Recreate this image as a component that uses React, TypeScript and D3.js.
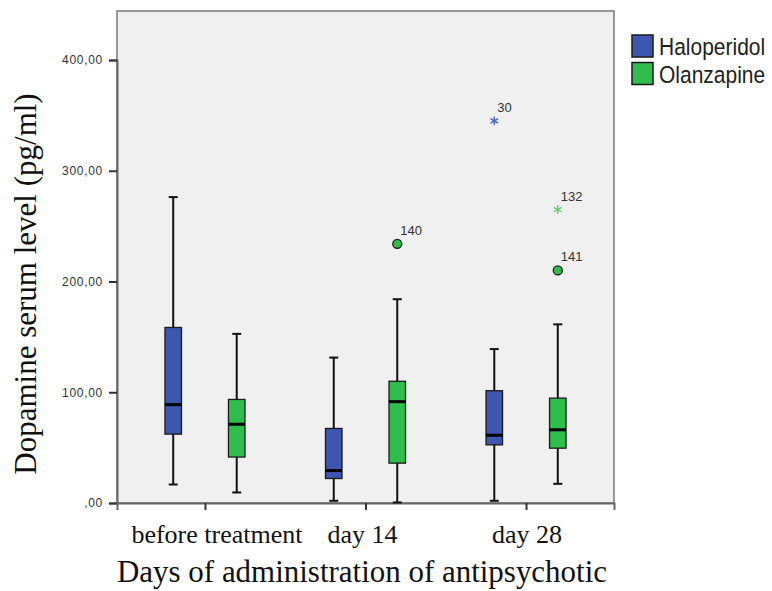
import React, { useEffect, useRef } from 'react'
import * as d3 from 'd3'

// categories on the x axis and the two drugs
const groups = ['before treatment', 'day 14', 'day 28']
const series = ['Haloperidol', 'Olanzapine']
const colors = ['#3d57b1', '#2fbd4b']
const starColors = ['#4a66c8', '#5fd16a']

// [whisker low, Q1, median, Q3, whisker high] per group
const haloStats = [
  [16.7, 62.2, 88.8, 158.5, 276.2],
  [2.0, 22.1, 29.3, 67.3, 131.3],
  [2.0, 52.5, 61.2, 101.4, 139.0],
]
const olanStats = [
  [9.5, 41.5, 71.1, 93.5, 152.7],
  [0.5, 36.0, 91.5, 109.9, 184.0],
  [17.3, 49.5, 66.1, 94.7, 161.3],
]

// outliers (circle) and extremes (star) with case numbers
const outliers = [
  { group: 'day 14', series: 'Olanzapine', value: 234, label: '140', kind: 'circle' },
  { group: 'day 28', series: 'Haloperidol', value: 345, label: '30', kind: 'star' },
  { group: 'day 28', series: 'Olanzapine', value: 265, label: '132', kind: 'star' },
  { group: 'day 28', series: 'Olanzapine', value: 210, label: '141', kind: 'circle' },
]

const yTicks = [0, 100, 200, 300, 400]
const yTickLabels = [',00', '100,00', '200,00', '300,00', '400,00']

export default function App() {
  const ref = useRef<SVGSVGElement>(null)

  useEffect(() => {
    const svg = d3.select(ref.current)
    svg.selectAll('*').remove()

    const left = 117, right = 614, top = 11, bottom = 503

    const x = d3.scalePoint().domain(groups).range([left, right]).padding(0.548)
    const sub = d3.scalePoint().domain(series).range([-31.75, 31.75])
    const y = d3.scaleLinear().domain([0, 400]).range([bottom, 60])
    const boxW = 16.5

    // plot background + frame
    svg.append('rect')
      .attr('x', left).attr('y', top)
      .attr('width', right - left).attr('height', bottom - top)
      .attr('fill', '#f0f0f0')
      .attr('stroke', '#777').attr('stroke-width', 1.5)

    // y axis
    const yAxis = svg.append('g').attr('transform', 'translate(' + left + ',0)')
      .call(d3.axisLeft(y).tickValues(yTicks).tickSize(8).tickPadding(6)
        .tickFormat((d, i) => yTickLabels[i]))
    yAxis.select('.domain').attr('stroke', '#666').attr('stroke-width', 2)
    yAxis.selectAll('.tick line').attr('stroke', '#333').attr('stroke-width', 2)
    yAxis.selectAll('.tick text')
      .attr('font-family', 'Liberation Sans, Arial, sans-serif')
      .attr('font-size', 12).attr('letter-spacing', 0.7)
      .attr('fill', '#333')

    // x axis
    const xAxis = svg.append('g').attr('transform', 'translate(0,' + bottom + ')')
      .call(d3.axisBottom(x).tickSize(7).tickFormat(() => ''))
    xAxis.select('.domain').attr('stroke', '#666').attr('stroke-width', 2)
    xAxis.selectAll('.tick line').attr('stroke', '#333').attr('stroke-width', 2)

    svg.append('g').selectAll('text')
      .data(groups)
      .enter()
      .append('text')
      .attr('x', d => x(d))
      .attr('dx', (d, i) => (i === 0 ? 12 : i === 1 ? -3 : 1))
      .attr('y', 543)
      .attr('text-anchor', 'middle')
      .attr('font-family', 'Liberation Serif, Times New Roman, serif')
      .attr('font-size', 26)
      .attr('fill', '#111')
      .text(d => d)

    // boxes
    const allStats = [haloStats, olanStats]
    series.forEach((s, si) => {
      const g = svg.append('g')
      groups.forEach((grp, gi) => {
        const [lo, q1, med, q3, hi] = allStats[si][gi]
        const cx = x(grp) + sub(s)
        // whiskers
        g.append('line')
          .attr('x1', cx).attr('x2', cx)
          .attr('y1', y(hi)).attr('y2', y(q3))
          .attr('stroke', '#111').attr('stroke-width', 2)
        g.append('line')
          .attr('x1', cx).attr('x2', cx)
          .attr('y1', y(q1)).attr('y2', y(lo))
          .attr('stroke', '#111').attr('stroke-width', 2)
        // caps
        ;[lo, hi].forEach(v => {
          g.append('line')
            .attr('x1', cx - 4.5).attr('x2', cx + 4.5)
            .attr('y1', y(v)).attr('y2', y(v))
            .attr('stroke', '#111').attr('stroke-width', 2)
        })
        g.append('rect')
          .attr('x', cx - boxW / 2).attr('width', boxW)
          .attr('y', y(q3)).attr('height', y(q1) - y(q3))
          .attr('fill', colors[si])
          .attr('stroke', '#1a1a1a').attr('stroke-width', 1.3)
        g.append('line')
          .attr('x1', cx - boxW / 2).attr('x2', cx + boxW / 2)
          .attr('y1', y(med)).attr('y2', y(med))
          .attr('stroke', '#000').attr('stroke-width', 3)
      })
    })

    // outliers and extremes
    const star = d3.symbol().type(d3.symbolAsterisk).size(55)
    outliers.forEach(o => {
      const si = series.indexOf(o.series)
      const cx = x(o.group) + sub(o.series)
      const cy = y(o.value)
      if (o.kind === 'circle') {
        svg.append('circle')
          .attr('cx', cx).attr('cy', cy).attr('r', 4.5)
          .attr('fill', colors[si])
          .attr('stroke', '#1a1a1a').attr('stroke-width', 1.3)
      } else {
        svg.append('path')
          .attr('d', star())
          .attr('transform', 'translate(' + cx + ',' + cy + ')')
          .attr('fill', 'none')
          .attr('stroke', starColors[si]).attr('stroke-width', 1.4)
      }
      svg.append('text')
        .attr('x', cx + 3).attr('y', cy - 9)
        .attr('font-family', 'Liberation Sans, Arial, sans-serif')
        .attr('font-size', 13)
        .attr('fill', '#333')
        .text(o.label)
    })

    // axis titles
    svg.append('text')
      .attr('x', 117).attr('y', 582)
      .attr('font-family', 'Liberation Serif, Times New Roman, serif')
      .attr('font-size', 31)
      .attr('textLength', 490).attr('lengthAdjust', 'spacingAndGlyphs')
      .attr('fill', '#111')
      .text('Days of administration of antipsychotic')

    svg.append('text')
      .attr('transform', 'translate(36,284) rotate(-90)')
      .attr('text-anchor', 'middle')
      .attr('font-family', 'Liberation Serif, Times New Roman, serif')
      .attr('font-size', 31)
      .attr('fill', '#111')
      .text('Dopamine serum level (pg/ml)')

    // legend
    const legend = svg.append('g')
    series.forEach((s, i) => {
      legend.append('rect')
        .attr('x', 632).attr('y', 35 + i * 27.5)
        .attr('width', 21).attr('height', 22)
        .attr('fill', colors[i])
        .attr('stroke', '#1a1a1a').attr('stroke-width', 1.5)
      legend.append('text')
        .attr('transform', 'translate(659,' + (55 + i * 27.5) + ') scale(1,1.18)')
        .attr('font-family', 'Liberation Sans, Arial, sans-serif')
        .attr('font-size', 21)
        .attr('fill', '#222')
        .text(s)
    })
  }, [])

  return (
    <svg ref={ref} width={772} height={591}
      style={{ position: 'absolute', left: 0, top: 0, background: '#fff' }} />
  )
}
